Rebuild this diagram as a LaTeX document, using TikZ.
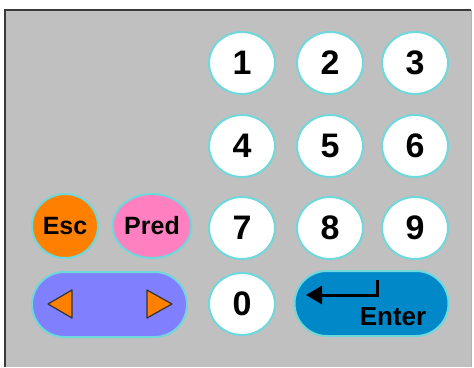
\documentclass[tikz,border=0pt]{standalone}
\usepackage{fontspec}
\setmainfont{Liberation Sans}
\usetikzlibrary{shapes.geometric,arrows.meta}
\definecolor{panel}{HTML}{C0C0C0}
\definecolor{rim}{HTML}{6ED8DA}
\definecolor{escc}{HTML}{FF8000}
\definecolor{predc}{HTML}{FF80C0}
\definecolor{arrc}{HTML}{8080FF}
\definecolor{entc}{HTML}{0088C8}
\definecolor{frame}{HTML}{3A3A3A}
\tikzset{
  numkey/.style={ellipse, draw=rim, line width=2pt, fill=white, minimum width=66pt, minimum height=62pt, inner sep=0pt, font=\fontsize{34}{34}\selectfont\bfseries},
  fnkey/.style={ellipse, draw=rim, line width=2pt, minimum width=66pt, minimum height=64pt, inner sep=0pt, font=\fontsize{25}{25}\selectfont\bfseries},
  pill/.style={rounded rectangle, draw=rim, line width=2pt, minimum width=155pt, minimum height=65pt, inner sep=0pt},
  tri/.style={fill=escc, draw=black!80, line width=1.2pt, line join=round}
}
\usetikzlibrary{shapes.misc}
\begin{document}
\begin{tikzpicture}[x=1pt,y=-1pt]
\useasboundingbox (0,0) rectangle (474,367);
\fill[white] (0,0) rectangle (474,367);
\fill[panel] (4,9) rectangle (471,367);
\draw[frame, line width=2pt] (5,367) -- (5,10) -- (471,10);
\draw[black!30, line width=0.8pt] (471,10) -- (471,367);
% number keys
\node[numkey] (k1) at (242,63) {1};
\node[numkey] (k2) at (330,63) {2};
\node[numkey] (k3) at (415,63) {3};
\node[numkey] (k4) at (242,146) {4};
\node[numkey] (k5) at (330,146) {5};
\node[numkey] (k6) at (415,146) {6};
\node[numkey] (k7) at (242,228) {7};
\node[numkey] (k8) at (330,228) {8};
\node[numkey] (k9) at (415,228) {9};
\node[numkey] (k0) at (242,304) {0};
% function keys
\node[fnkey, fill=escc] (esc) at (65,226) {Esc};
\node[fnkey, fill=predc] (pred) at (152,226) {Pred};
% arrow pill
\node[pill, fill=arrc] (nav) at (109.5,304.5) {};
\draw[tri] (48,304) -- (72,290) -- (72,318) -- cycle;
\draw[tri] (172,304) -- (147,290) -- (147,318) -- cycle;
% enter pill
\node[pill, fill=entc, minimum width=154pt] (enter) at (371.5,303.5) {};
\node[font=\fontsize{26}{26}\selectfont\bfseries, inner sep=0pt, anchor=base] (entxt) at (393,325) {Enter};
\coordinate (ea) at (377,280);
\coordinate (eb) at (377,295);
\coordinate (ec) at (306,295);
\draw[black, line width=3pt, -{Triangle[length=16pt,width=18pt]}] (ea) -- (eb) -- (ec);
\end{tikzpicture}
\end{document}
